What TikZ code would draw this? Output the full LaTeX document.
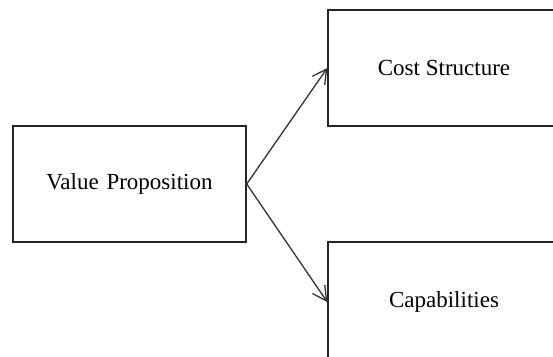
\documentclass[tikz,border=0pt]{standalone}
\usepackage{fontspec}
\setmainfont{Liberation Serif}
\usetikzlibrary{arrows.meta}
\begin{document}
\begin{tikzpicture}[x=1pt,y=-1pt,
  block/.style={draw=black!85, line width=1.4pt, fill=white, inner sep=0pt,
    font=\fontsize{23}{27}\selectfont, text=black},
  link/.style={draw=black!80, line width=1.3pt,
    -{Straight Barb[length=14pt,width=15pt,line width=1.3pt]}}]
  \useasboundingbox (0,0) rectangle (553,356);
  \clip (0,0) rectangle (553,356);
  \fill[white] (0,0) rectangle (553,356);
  % left block
  \node[block, minimum width=233pt, minimum height=116pt] (vp) at (129.5,184)
    {Value\hspace{2pt} Proposition};
  % right blocks, running past the right and bottom edges
  \node[block, minimum width=232pt, minimum height=116pt] (cs) at (444,68)
    {Cost Structure};
  \node[block, minimum width=232pt, minimum height=120pt] (cap) at (444,302)
    {Capabilities};
  % connectors
  \draw[link] (vp.east) -- (cs.west);
  \draw[link] (vp.east) -- (cap.west);
\end{tikzpicture}
\end{document}
